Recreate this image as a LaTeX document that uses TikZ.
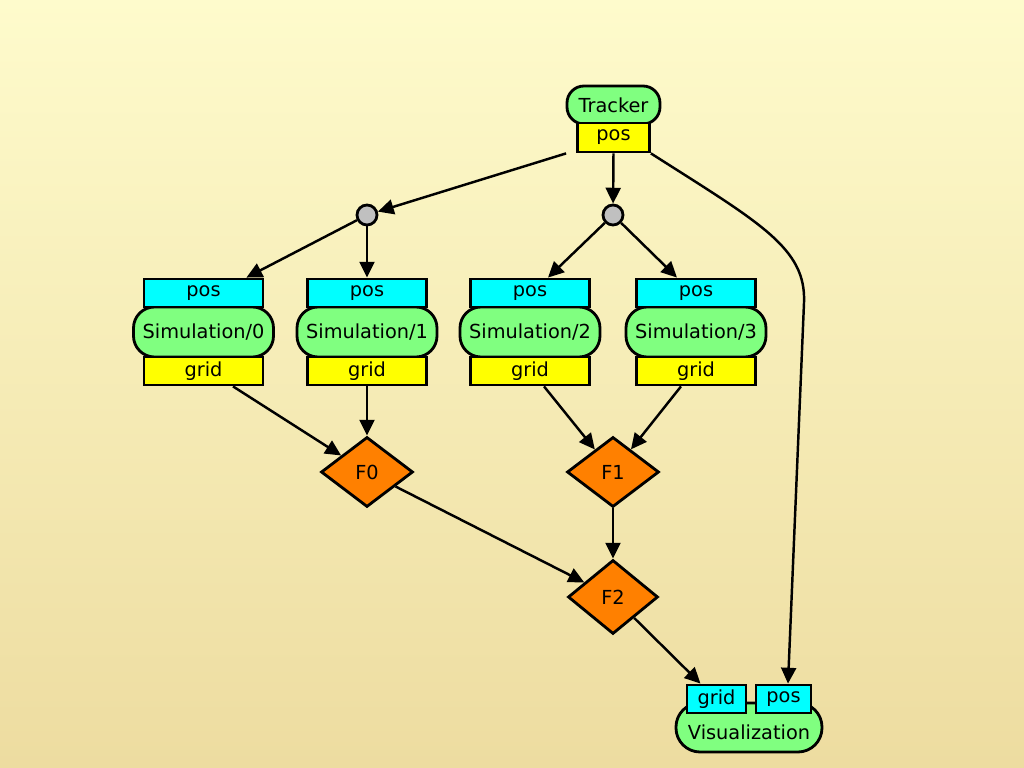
\documentclass[tikz,border=0pt]{standalone}
\usepackage{fontspec}
\setmainfont{DejaVu Sans}
\usetikzlibrary{shapes.geometric, arrows.meta, calc}
\definecolor{bgtop}{HTML}{FEFBCC}
\definecolor{bgbottom}{HTML}{EDDCA0}
\definecolor{procgreen}{HTML}{80FF80}
\definecolor{portcyan}{HTML}{00FFFF}
\definecolor{portyellow}{HTML}{FFFF00}
\definecolor{filterorange}{HTML}{FF8000}
\definecolor{splitgray}{HTML}{C0C0C0}
\tikzset{
  proc/.style={
    rectangle, rounded corners=#1, draw=black, line width=1.6pt,
    fill=procgreen, inner sep=0pt,
    font=\fontsize{11}{13}\selectfont
  },
  port/.style={
    rectangle, draw=black, line width=1.6pt, fill=#1,
    minimum width=2.38cm, minimum height=0.56cm, inner sep=0pt,
    font=\fontsize{11}{13}\selectfont
  },
  filter/.style={
    diamond, draw=black, line width=1.6pt, fill=filterorange,
    minimum width=1.84cm, minimum height=1.4cm, inner sep=0pt,
    font=\fontsize{11}{13}\selectfont
  },
  split/.style={
    circle, draw=black, line width=1.6pt, fill=splitgray,
    minimum size=0.4cm, inner sep=0pt
  },
  flow/.style={-{Triangle[length=9pt, width=8.5pt]}, line width=1.4pt}
}

\begin{document}
\begin{tikzpicture}
        % Fondo
        \shade[top color=bgtop, bottom color=bgbottom]
          (0,0) rectangle (20.48,15.36);
        \useasboundingbox (0,0) rectangle (20.48,15.36);
        % Tracker
        \node[proc=0.34cm, minimum width=1.86cm, minimum height=0.76cm]
          (trk) at (12.27,13.26) {Tracker};
        \node[port=portyellow, minimum width=1.44cm, minimum height=0.58cm]
          (trkpos) at (12.27,12.61) {pos};
        % Reparto
        \node[split] (junc0) at (7.34,11.06) {};
        \node[split] (junc1) at (12.26,11.06) {};
        % Simulaciones
        \foreach \i/\x in {0/4.07, 1/7.34, 2/10.6, 3/13.92}{%
          \node[proc=0.42cm, minimum width=2.8cm, minimum height=1.0cm]
            (sim\i) at (\x,8.72) {Simulation/\i};
          \node[port=portcyan] (simpos\i) at (\x,9.5) {pos};
          \node[port=portyellow] (simgrid\i) at (\x,7.94) {grid};}
        % Filtros
        \node[filter] (f0) at (7.34,5.92) {F0};
        \node[filter] (f1) at (12.26,5.92) {F1};
        \node[filter, minimum width=1.8cm, minimum height=1.48cm]
          (f2) at (12.26,3.42) {F2};
        % Visualization
        \node[proc=0.48cm, minimum width=2.92cm, minimum height=0.98cm]
          (vis) at (14.98,0.81)
          {\raisebox{-0.1cm}[\height][\depth]{Visualization}};
        \node[port=portcyan, minimum width=1.18cm] (visgrid) at (14.33,1.38) {grid};
        \node[port=portcyan, minimum width=1.1cm] (vispos) at (15.67,1.38) {pos};
        % Conexiones
        \draw[flow] ([xshift=-0.2cm]trkpos.south west) -- (junc0);
        \draw[flow] (trkpos.south) -- (junc1);
        \draw[flow] (junc0) -- ([xshift=-0.36cm]simpos0.north east);
        \draw[flow] (junc0) -- (simpos1.north);
        \draw[flow] (junc1) -- ([xshift=0.36cm]simpos2.north);
        \draw[flow] (junc1) -- ([xshift=-0.38cm]simpos3.north);
        \draw[flow] ([xshift=0.59cm]simgrid0.south) -- (f0);
        \draw[flow] (simgrid1.south) -- (f0.north);
        \draw[flow] ([xshift=0.28cm]simgrid2.south) -- (f1);
        \draw[flow] ([xshift=-0.3cm]simgrid3.south) -- (f1);
        \draw[flow] (f0) -- (f2);
        \draw[flow] (f1.south) -- (f2.north);
        \draw[flow] (f2) -- ([xshift=-0.32cm]visgrid.north);
        \draw[flow] (trkpos.south east)
          .. controls (15.2,10.9) and (16.13,10.4) .. (16.08,9.3)
          -- ([xshift=0.09cm]vispos.north);
      \end{tikzpicture}
\end{document}
